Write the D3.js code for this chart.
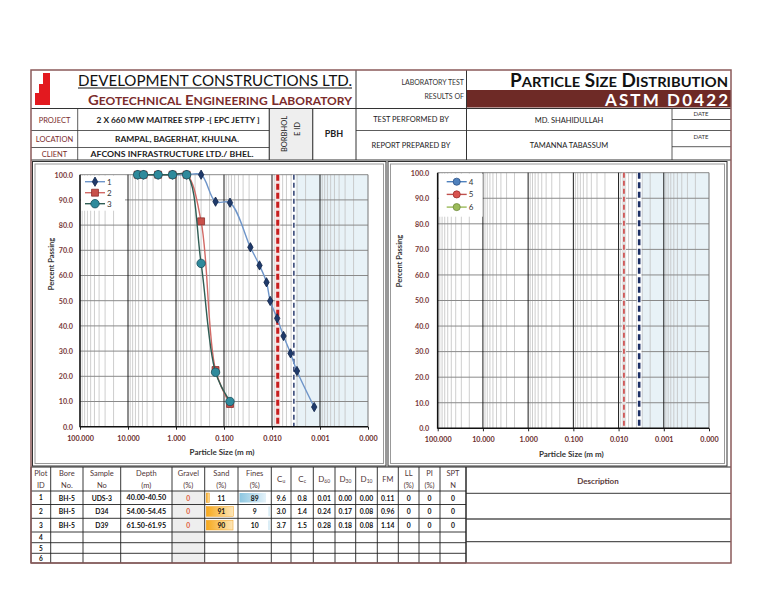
<!DOCTYPE html>
<html><head><meta charset="utf-8">
<script src="https://cdn.jsdelivr.net/npm/d3@7/dist/d3.min.js"></script>
<style>body{margin:0;background:#fff}svg{display:block;font-family:Lato,"Open Sans",sans-serif}</style>
</head><body><svg id="c" width="768" height="593"></svg>
<script>
// ---------------- DATA ----------------
const sieveSizes = [6.3, 4.75, 2.36, 1.18, 0.6, 0.3, 0.15, 0.075];
const hydroSizes1 = [0.0282, 0.0182, 0.0130, 0.0109, 0.0078, 0.00575, 0.00411, 0.00302, 0.00132];
const passing1 = [100, 100, 100, 100, 100, 100, 89.3, 88.9, 71.2, 64.0, 57.3, 49.9, 43.0, 36.0, 29.1, 22.1, 7.8];
const passing2 = [100, 100, 100, 100, 100, 81.5, 22.5, 9.0];
const passing3 = [100, 100, 100, 100, 100, 64.8, 21.6, 10.0];
const legendLeft = ["1", "2", "3"];
const legendRight = ["4", "5", "6"];
const xTickValues = [100, 10, 1, 0.1, 0.01, 0.001, 0.0001];
const yTickValues = [0, 10, 20, 30, 40, 50, 60, 70, 80, 90, 100];
const redLineSize = 0.0076;
const blueLineSize = 0.0035;

const tableHeaders = [["Plot","ID"],["Bore","No."],["Sample","No"],["Depth","(m)"],["Gravel","(%)"],["Sand","(%)"],["Fines","(%)"],["C","u"],["C","c"],["D","60"],["D","30"],["D","10"],["FM"],["LL","(%)"],["PI","(%)"],["SPT","N"]];
const plotIds = ["1","2","3","4","5","6"];
const boreNo = ["BH-5","BH-5","BH-5"];
const sampleNo = ["UDS-3","D34","D39"];
const depth = ["40.00-40.50","54.00-54.45","61.50-61.95"];
const gravel = [0, 0, 0];
const sand = [11, 91, 90];
const fines = [89, 9, 10];
const cu = ["9.6","3.0","3.7"];
const cc = ["0.8","1.4","1.5"];
const d60 = ["0.01","0.24","0.28"];
const d30 = ["0.00","0.17","0.18"];
const d10 = ["0.00","0.08","0.08"];
const fm = ["0.11","0.96","1.14"];
const ll = ["0","0","0"];
const pi = ["0","0","0"];
const spt = ["0","0","0"];

// ---------------- DRAW ----------------
const svg = d3.select("#c");
svg.append("rect").attr("width",768).attr("height",593).attr("fill","#fff");
const MAROON = "#7b2c2c";

function line(x1,y1,x2,y2,c="#222",w=1){svg.append("line").attr("x1",x1).attr("y1",y1).attr("x2",x2).attr("y2",y2).attr("stroke",c).attr("stroke-width",w);}
function text(x,y,t,o={}){const e=svg.append("text").attr("x",x).attr("y",y).text(t)
  .attr("font-size",o.size||8).attr("fill",o.fill||"#222").attr("font-weight",o.weight||400)
  .attr("text-anchor",o.anchor||"middle").attr("dominant-baseline","central");
  if(o.len){e.attr("textLength",o.len).attr("lengthAdjust",o.adj||"spacingAndGlyphs");}
  return e;}

// header -----------
svg.append("path").attr("d","M43,73 L50,73 L50,105 L35,105 L35,93 L39,93 L39,84 L43,84 Z").attr("fill","#e3191f");
text(215,79,"DEVELOPMENT CONSTRUCTIONS LTD.",{size:16,len:274,fill:"#111"});
line(78,88,352,88,"#111",1);
function smallCaps(x,y,words,big,small,fill,len,anchor){
  const t=svg.append("text").attr("x",x).attr("y",y).attr("fill",fill).attr("font-weight",700)
    .attr("text-anchor",anchor).attr("dominant-baseline","alphabetic");
  words.forEach((w,i)=>{
    t.append("tspan").attr("font-size",big).text((i?" ":"")+w[0]);
    t.append("tspan").attr("font-size",small).text(w.slice(1));
  });
  if(len) t.attr("textLength",len).attr("lengthAdjust","spacingAndGlyphs");
  return t;
}
smallCaps(88,105,["GEOTECHNICAL","ENGINEERING","LABORATORY"],13.5,11,MAROON,264,"start");
text(464,82,"LABORATORY TEST",{size:7,anchor:"end",fill:"#333"});
text(464,95.5,"RESULTS OF",{size:7,anchor:"end",fill:"#333"});
smallCaps(510,87,["PARTICLE","SIZE","DISTRIBUTION"],18,14,"#111",218,"start");
svg.append("rect").attr("x",466.5).attr("y",90).attr("width",264.5).attr("height",17.5).attr("fill","#6e2a26");
text(605,99.5,"ASTM D0422",{size:17,weight:700,fill:"#fff",anchor:"start",len:123,adj:"spacing"});

const HL="#333";
line(31,108.5,731,108.5,HL,1);
line(356,70,356,160,HL,1);
line(466.5,70,466.5,160,HL,1);
line(31,130.5,269.3,130.5,HL,0.8);
line(31,147.5,269.3,147.5,HL,0.8);
line(356,130.5,731,130.5,HL,0.8);
line(672,119.5,731,119.5,HL,0.8);
line(672,146.7,731,146.7,HL,0.8);
[77.7,269.3,312.7,672].forEach(xx=>line(xx,108.5,xx,160,HL,0.8));
svg.append("rect").attr("x",269.8).attr("y",109).attr("width",42.4).attr("height",50.5).attr("fill","#eeeeee");
line(269.3,108.5,269.3,160,HL,0.8); line(312.7,108.5,312.7,160,HL,0.8);
text(54.5,120,"PROJECT",{size:7.5,fill:MAROON});
text(54.5,139,"LOCATION",{size:7.5,fill:MAROON});
text(54.5,154,"CLIENT",{size:7.5,fill:MAROON});
text(178,120,"2 X 660 MW MAITREE STPP -[ EPC JETTY ]",{size:7.5,weight:700,len:163,fill:"#222"});
text(177,139,"RAMPAL, BAGERHAT, KHULNA.",{size:7.5,weight:700,len:124,fill:"#222"});
text(172,154,"AFCONS INFRASTRUCTURE LTD./ BHEL.",{size:7.5,weight:700,len:163,fill:"#222"});
svg.append("text").attr("transform","translate(284,134) rotate(-90)").attr("text-anchor","middle").attr("dominant-baseline","central").attr("font-size",7.5).attr("fill","#222").text("BORBHOL");
svg.append("text").attr("transform","translate(297,129) rotate(-90)").attr("text-anchor","middle").attr("dominant-baseline","central").attr("font-size",7.5).attr("fill","#222").text("E ID");
text(334,133,"PBH",{size:9,weight:700});
text(411,119.5,"TEST PERFORMED BY",{size:7.5,fill:"#222"});
text(411,145,"REPORT PREPARED BY",{size:7.5,fill:"#222"});
text(569,120,"MD. SHAHIDULLAH",{size:7.5,fill:"#222"});
text(569,145,"TAMANNA TABASSUM",{size:7.5,fill:"#222"});
text(701,113.5,"DATE",{size:6,fill:"#333"});
text(701,136,"DATE",{size:6,fill:"#333"});
line(31,160,731,160,HL,1);

function frame(x0,y0,x1,y1){
  svg.append("rect").attr("x",x0).attr("y",y0).attr("width",x1-x0).attr("height",y1-y0).attr("fill","#fff").attr("stroke","#333").attr("stroke-width",1);
  svg.append("rect").attr("x",x0+2.5).attr("y",y0+2.5).attr("width",x1-x0-5).attr("height",y1-y0-5).attr("fill","none").attr("stroke","#999").attr("stroke-width",1);
}
frame(32.5,161.5,386,466);
frame(388,161.5,727,466);

function drawChart(o){
  const x=d3.scaleLog().domain([100,0.0001]).range([o.x0,o.x1]);
  const y=d3.scaleLinear().domain([0,100]).range([o.y1,o.y0]);
  const g=svg.append("g");
  g.append("rect").attr("x",x(blueLineSize)).attr("y",o.y0).attr("width",o.x1-x(blueLineSize)).attr("height",o.y1-o.y0).attr("fill","#e8f2f7");
  const minors=[];
  for(let e=-4;e<2;e++) for(let k=2;k<10;k++) minors.push(k*Math.pow(10,e));
  g.selectAll(".mn").data(minors).enter().append("line")
    .attr("x1",d=>x(d)).attr("x2",d=>x(d)).attr("y1",o.y0).attr("y2",o.y1).attr("stroke","#c2c2c2").attr("stroke-width",0.8);
  g.selectAll(".hg").data(yTickValues.filter(v=>v>0)).enter().append("line")
    .attr("x1",o.x0).attr("x2",o.x1).attr("y1",d=>y(d)).attr("y2",d=>y(d)).attr("stroke","#8a8a8a").attr("stroke-width",1);
  g.selectAll(".mj").data(xTickValues.slice(1)).enter().append("line")
    .attr("x1",d=>x(d)).attr("x2",d=>x(d)).attr("y1",o.y0).attr("y2",o.y1).attr("stroke",(d,i)=>i==5?"#777":"#1a1a1a").attr("stroke-width",1);
  g.append("rect").attr("x",o.x0+1).attr("y",o.y0+1).attr("width",44).attr("height",o.legH).attr("fill","#fff");
  g.append("line").attr("x1",x(redLineSize)).attr("x2",x(redLineSize)).attr("y1",o.y0).attr("y2",o.y1).attr("stroke",o.redHalo).attr("stroke-width",o.redHaloW);
  g.append("line").attr("x1",x(redLineSize)).attr("x2",x(redLineSize)).attr("y1",o.y0).attr("y2",o.y1).attr("stroke","#c81e1e").attr("stroke-width",o.redW).attr("stroke-dasharray",o.redDash);
  g.append("line").attr("x1",x(blueLineSize)).attr("x2",x(blueLineSize)).attr("y1",o.y0).attr("y2",o.y1).attr("stroke","#fff").attr("stroke-width",o.blueW+2);
  g.append("line").attr("x1",x(blueLineSize)).attr("x2",x(blueLineSize)).attr("y1",o.y0).attr("y2",o.y1).attr("stroke","#1c2f66").attr("stroke-width",o.blueW).attr("stroke-dasharray",o.blueDash);
  const ya=g.append("g").attr("transform",`translate(${o.x0},0)`).call(d3.axisLeft(y).tickValues(yTickValues).tickFormat(d3.format(".1f")).tickSize(0).tickPadding(o.yPad));
  ya.select(".domain").remove();
  ya.selectAll("text").attr("font-size",7.2).attr("font-weight",700).attr("fill","#7a3a3a").attr("font-family","Lato");
  const xa=g.append("g").attr("transform",`translate(0,${o.y1})`).call(d3.axisBottom(x).tickValues(xTickValues).tickFormat(d3.format(".3f")).tickSize(3).tickPadding(6));
  xa.select(".domain").remove();
  xa.selectAll("line").attr("stroke","#222");
  xa.selectAll("text").attr("font-size",7.2).attr("font-weight",700).attr("fill","#6b2e2e").attr("font-family","Lato");
  g.append("line").attr("x1",o.x0).attr("x2",o.x0).attr("y1",o.y0).attr("y2",o.y1+0.5).attr("stroke","#111").attr("stroke-width",1.6);
  g.append("line").attr("x1",o.x0).attr("x2",o.x1).attr("y1",o.y1).attr("y2",o.y1).attr("stroke","#111").attr("stroke-width",1.6);
  g.append("text").attr("x",(o.x0+o.x1)/2-2).attr("y",o.y1+25.5).attr("text-anchor","middle").attr("dominant-baseline","central")
    .attr("font-size",8).attr("font-weight",700).attr("fill","#333").text("Particle Size (m m)");
  g.append("text").attr("transform",`translate(${o.ytx},${o.yty}) rotate(-90)`).attr("text-anchor","middle").attr("dominant-baseline","central")
    .attr("font-size",7.5).attr("font-weight",700).attr("fill","#333").text("Percent Passing");
  const ln=d3.line().x(d=>x(d.s)).y(d=>y(d.p)).curve(d3.curveCatmullRom.alpha(0.5));
  o.series.forEach(s=>{
    const pts=s.sizes.map((v,i)=>({s:v,p:s.pass[i]}));
    g.append("path").attr("d",ln(pts)).attr("fill","none").attr("stroke",s.line).attr("stroke-width",1.4);
    g.selectAll(null).data(pts).enter().append("path")
      .attr("transform",d=>`translate(${x(d.s)},${y(d.p)})`)
      .attr("d",d3.symbol(s.sym,s.size)()).attr("fill",s.fill).attr("stroke",s.stroke).attr("stroke-width",0.8);
  });
  o.legend.forEach((l,i)=>{
    const ly=o.y0+o.legY0+i*o.legDy;
    g.append("line").attr("x1",o.x0+o.legX).attr("x2",o.x0+o.legX+20).attr("y1",ly).attr("y2",ly).attr("stroke",l.line).attr("stroke-width",1.4);
    g.append("path").attr("transform",`translate(${o.x0+o.legX+10},${ly})`).attr("d",d3.symbol(l.sym,l.size)()).attr("fill",l.fill).attr("stroke",l.stroke).attr("stroke-width",0.8);
    g.append("text").attr("x",o.x0+o.legX+22).attr("y",ly).attr("dominant-baseline","central").attr("font-size",8).attr("fill","#333").text(l.name);
  });
}

const s1={sizes:sieveSizes.concat(hydroSizes1),pass:passing1,sym:d3.symbolDiamond,size:25,fill:"#1f3a6b",stroke:"#0f2348",line:"#6e95c9"};
const s2={sizes:sieveSizes,pass:passing2,sym:d3.symbolSquare,size:48,fill:"#c8504a",stroke:"#8a2f2c",line:"#d26a66"};
const s3={sizes:sieveSizes,pass:passing3,sym:d3.symbolCircle,size:56,fill:"#2f8a9c",stroke:"#1a4f5c",line:"#2f5d54"};
drawChart({x0:80,x1:368,y0:174.7,y1:426.7,legH:35,yPad:7,ytx:51.5,yty:264,
  redHalo:"#f6e2e2",redHaloW:5,redW:3,redDash:"6,3",blueW:1.4,blueDash:"5,3",
  series:[s1,s2,s3],legX:5,legY0:7,legDy:11,
  legend:[{name:legendLeft[0],...s1},{name:legendLeft[1],...s2},{name:legendLeft[2],...s3}]});
const c4={sym:d3.symbolCircle,size:40,fill:"#4f81bd",stroke:"#2d5286",line:"#4f81bd"};
const c5={sym:d3.symbolCircle,size:40,fill:"#d9534f",stroke:"#9c2f2c",line:"#c0504d"};
const c6={sym:d3.symbolCircle,size:40,fill:"#9bbb59",stroke:"#6f8a3c",line:"#9bbb59"};
drawChart({x0:437.7,x1:709,y0:172.7,y1:428.3,legH:43,yPad:8.5,ytx:399.5,yty:261,
  redHalo:"#e4e4e4",redHaloW:4,redW:1.3,redDash:"5,3",blueW:2.6,blueDash:"6,3.5",
  series:[],legX:9,legY0:9,legDy:12.7,
  legend:[{name:legendRight[0],...c4},{name:legendRight[1],...c5},{name:legendRight[2],...c6}]});

// ---------------- TABLE ----------------
const colX=[31,50.7,83,120.7,172,204.7,238,271.3,291,313.3,335,355.7,377.3,398.3,419,440,466];
const rowY=[467,491,504.5,518.3,532,542.7,553.3,563];
svg.append("rect").attr("x",colX[4]).attr("y",rowY[1]).attr("width",colX[5]-colX[4]).attr("height",rowY[7]-rowY[1]).attr("fill","#eeeeee");
const defs=svg.append("defs");
const gO=defs.append("linearGradient").attr("id","gO");
gO.append("stop").attr("offset","0%").attr("stop-color","#f6a81c");
gO.append("stop").attr("offset","100%").attr("stop-color","#fde6b8");
const gB=defs.append("linearGradient").attr("id","gB");
gB.append("stop").attr("offset","0%").attr("stop-color","#8cc6e0");
gB.append("stop").attr("offset","100%").attr("stop-color","#e4f2f9");
const gB2=defs.append("linearGradient").attr("id","gB2");
gB2.append("stop").attr("offset","0%").attr("stop-color","#e4f2f9");
gB2.append("stop").attr("offset","100%").attr("stop-color","#8cc6e0");
const sw=colX[6]-colX[5]-3.5, fw=colX[7]-colX[6]-3.5;
sand.forEach((v,i)=>{
  svg.append("rect").attr("x",colX[5]+1.5).attr("y",rowY[i+1]+2).attr("width",sw*v/100).attr("height",rowY[i+2]-rowY[i+1]-4)
    .attr("fill","url(#gO)").attr("stroke","#f0a020").attr("stroke-width",0.5);
});
fines.forEach((v,i)=>{
  if(v>50) svg.append("rect").attr("x",colX[6]+1.5).attr("y",rowY[i+1]+2).attr("width",fw*v/100).attr("height",rowY[i+2]-rowY[i+1]-4).attr("fill","url(#gB)");
  else svg.append("rect").attr("x",colX[7]-2-fw*v/100*0.35).attr("y",rowY[i+1]+2).attr("width",fw*v/100*0.35).attr("height",rowY[i+2]-rowY[i+1]-4).attr("fill","url(#gB2)");
});
rowY.forEach((yy,i)=>line(31,yy,466,yy,"#222",i==0?1.2:0.9));
colX.forEach(xx=>line(xx,rowY[0],xx,rowY[7],"#222",0.9));
const HC="#4f3636";
tableHeaders.forEach((h,i)=>{
  const cx=(colX[i]+colX[i+1])/2;
  if(i>=7&&i<=11){
    const t=svg.append("text").attr("x",cx).attr("y",479).attr("text-anchor","middle").attr("dominant-baseline","central").attr("fill",HC);
    t.append("tspan").attr("font-size",8).text(h[0]);
    t.append("tspan").attr("font-size",5).attr("dy",2).text(h[1]);
  } else if(h.length==1){
    text(cx,479,h[0],{size:7.5,fill:HC});
  } else {
    text(cx,473.5,h[0],{size:7.5,fill:HC});
    text(cx,485,h[1],{size:7.5,fill:HC});
  }
});
plotIds.forEach((p,i)=>text((colX[0]+colX[1])/2,(rowY[i+1]+rowY[i+2])/2,p,{size:6.5,weight:700,fill:"#111"}));
const cols=[boreNo,sampleNo,depth,gravel,sand,fines,cu,cc,d60,d30,d10,fm,ll,pi,spt];
cols.forEach((arr,c)=>{
  arr.forEach((v,i)=>{
    const cx=(colX[c+1]+colX[c+2])/2, cy=(rowY[i+1]+rowY[i+2])/2;
    text(cx,cy,String(v),{size:c==2?7.2:6.8,weight:700,fill:c==3?"#e0603a":"#111"});
  });
});
line(466,467,731,467,"#222",1);
line(466,493.3,731,493.3,"#222",0.9);
line(466,519,731,519,"#555",1.4);
line(466,541.7,731,541.7,"#555",1.2);
line(466,467,466,563,"#222",1);
text(598,480.5,"Description",{size:8,weight:700,fill:"#5a3a3a"});

svg.append("rect").attr("x",31).attr("y",70).attr("width",700).attr("height",493).attr("fill","none").attr("stroke","#8a5a5a").attr("stroke-width",1.5);
</script></body></html>
